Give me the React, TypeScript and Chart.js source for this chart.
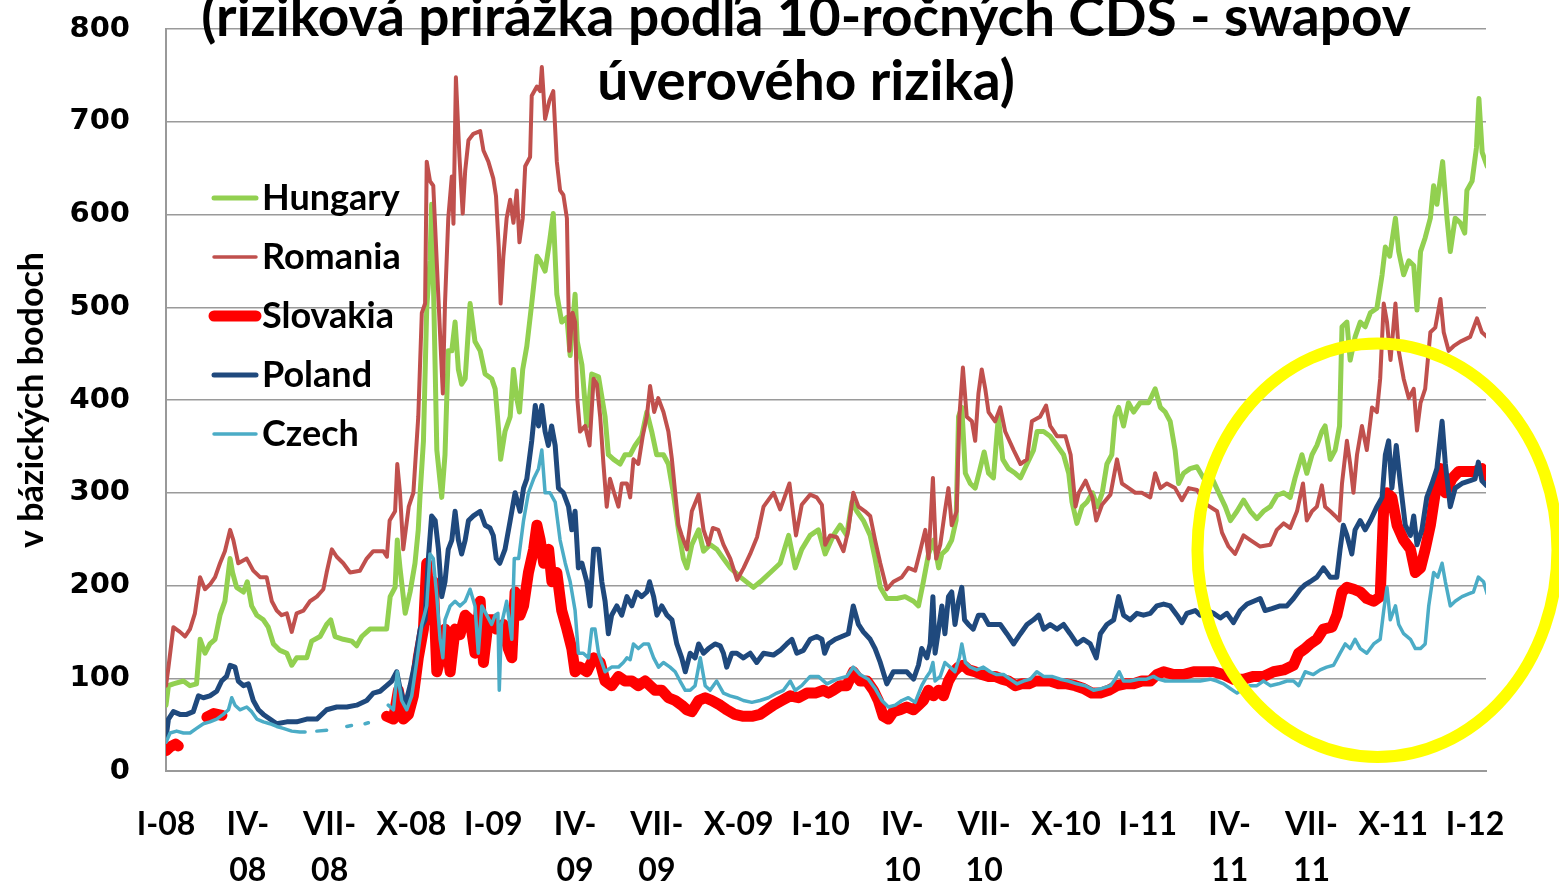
import React, { useEffect, useRef } from 'react';
import { Chart, registerables } from 'chart.js';

Chart.register(...registerables);

// ---------- text ----------
const TITLE_LINES = ['(riziková prirážka podľa 10-ročných CDS - swapov', 'úverového rizika)'];
const Y_TITLE = 'v bázických bodoch';
const TICK_LABELS: (string | string[])[] = [
  'I-08', ['IV-', '08'], ['VII-', '08'], 'X-08',
  'I-09', ['IV-', '09'], ['VII-', '09'], 'X-09',
  'I-10', ['IV-', '10'], ['VII-', '10'], 'X-10',
  'I-11', ['IV-', '11'], ['VII-', '11'], 'X-11',
  'I-12',
];
const TICK_STEP = 3; // months between labels
const X_MAX = 48.4; // months since I-08
const Y_MAX = 800;
const Y_STEP = 100;

// ---------- series: [months since Jan 2008, basis points] ----------
type P = [number, number | null];

const hungary: P[] = [[0,71],[0.09,92],[0.27,94],[0.64,97],[0.88,92],[1.12,94],[1.25,142],[1.43,127],[1.61,137],[1.8,142],[1.98,168],[2.16,183],[2.35,229],[2.44,214],[2.59,198],[2.84,193],[2.98,204],[3.14,178],[3.33,168],[3.57,163],[3.75,155],[3.94,137],[4.18,130],[4.43,127],[4.61,114],[4.79,122],[5.16,122],[5.34,140],[5.65,145],[5.89,158],[6.04,163],[6.2,145],[6.5,142],[6.81,140],[6.99,135],[7.18,145],[7.48,153],[7.85,153],[8.09,153],[8.22,188],[8.4,198],[8.48,249],[8.58,219],[8.77,170],[8.95,193],[9.13,224],[9.25,260],[9.32,300],[9.44,356],[9.56,499],[9.68,550],[9.74,611],[9.8,534],[9.93,346],[10.11,295],[10.23,341],[10.35,453],[10.48,453],[10.6,484],[10.72,433],[10.84,417],[10.97,423],[11.15,504],[11.33,463],[11.52,453],[11.7,428],[11.94,423],[12.07,412],[12.2,366],[12.27,336],[12.43,366],[12.62,382],[12.74,433],[12.86,402],[12.96,387],[13.08,433],[13.23,458],[13.41,504],[13.6,555],[13.72,550],[13.9,539],[14.06,570],[14.2,601],[14.33,514],[14.51,484],[14.7,489],[14.82,448],[15.0,514],[15.08,463],[15.25,438],[15.43,372],[15.61,428],[15.86,425],[16.1,382],[16.22,341],[16.41,336],[16.65,331],[16.83,341],[17.02,341],[17.2,351],[17.44,361],[17.63,387],[17.81,366],[17.99,341],[18.24,341],[18.42,331],[18.6,300],[18.79,260],[18.97,229],[19.1,219],[19.28,244],[19.53,260],[19.71,237],[19.95,244],[20.2,239],[20.44,229],[20.69,219],[21.06,209],[21.54,198],[21.79,204],[22.16,214],[22.52,224],[22.83,254],[23.07,219],[23.31,239],[23.62,254],[23.92,260],[24.17,234],[24.47,254],[24.72,265],[24.96,254],[25.15,290],[25.33,280],[25.57,270],[25.82,254],[26.0,229],[26.19,198],[26.43,186],[26.8,186],[27.1,188],[27.41,183],[27.59,178],[27.77,204],[27.96,234],[28.15,249],[28.33,219],[28.45,234],[28.63,239],[28.81,249],[28.97,270],[29.06,382],[29.18,392],[29.31,321],[29.49,310],[29.67,305],[29.85,326],[30.0,344],[30.16,321],[30.34,316],[30.52,382],[30.68,336],[30.89,326],[31.14,321],[31.33,316],[31.57,331],[31.81,346],[31.94,366],[32.18,366],[32.42,361],[32.67,351],[32.91,341],[33.1,321],[33.22,290],[33.4,267],[33.59,285],[33.77,290],[33.97,300],[34.15,285],[34.33,300],[34.5,331],[34.68,341],[34.8,382],[34.93,392],[35.11,372],[35.29,397],[35.48,387],[35.72,397],[36.03,397],[36.27,412],[36.46,392],[36.64,387],[36.82,377],[37.0,346],[37.13,310],[37.31,321],[37.55,326],[37.8,328],[38.04,316],[38.35,316],[38.6,300],[38.84,285],[39.03,270],[39.27,280],[39.51,292],[39.76,280],[40.0,272],[40.24,280],[40.49,285],[40.73,297],[40.98,300],[41.22,295],[41.4,316],[41.65,341],[41.83,321],[42.02,341],[42.2,351],[42.38,366],[42.5,372],[42.69,336],[42.87,346],[43.03,372],[43.12,479],[43.3,484],[43.42,443],[43.6,468],[43.79,484],[43.97,479],[44.16,494],[44.4,499],[44.59,535],[44.71,565],[44.87,555],[45.08,596],[45.2,560],[45.38,535],[45.57,550],[45.75,545],[45.87,497],[46.0,560],[46.17,575],[46.36,596],[46.48,631],[46.6,611],[46.81,657],[46.97,596],[47.09,560],[47.27,596],[47.46,591],[47.62,580],[47.7,626],[47.89,636],[48.05,672],[48.14,725],[48.26,667],[48.44,652]];

const romania: P[] = [[0,92],[0.09,112],[0.27,155],[0.51,150],[0.7,145],[0.88,153],[1.06,170],[1.25,209],[1.43,196],[1.61,201],[1.8,209],[1.98,224],[2.16,237],[2.35,260],[2.47,249],[2.65,224],[2.96,229],[3.2,216],[3.45,209],[3.69,209],[3.88,183],[4.06,173],[4.24,168],[4.43,170],[4.61,150],[4.79,170],[5.04,173],[5.28,183],[5.53,188],[5.77,196],[5.89,214],[6.08,239],[6.26,231],[6.5,224],[6.75,214],[7.11,216],[7.36,229],[7.6,237],[7.97,237],[8.1,231],[8.2,270],[8.4,280],[8.48,331],[8.58,300],[8.7,239],[8.9,285],[9.07,300],[9.25,382],[9.38,494],[9.5,504],[9.56,657],[9.68,636],[9.8,631],[9.99,509],[10.15,407],[10.23,504],[10.35,596],[10.48,641],[10.54,590],[10.63,748],[10.76,662],[10.88,601],[10.97,647],[11.09,680],[11.27,687],[11.52,690],[11.64,669],[11.82,657],[12.0,639],[12.1,620],[12.2,565],[12.27,504],[12.37,555],[12.49,596],[12.62,616],[12.74,591],[12.86,626],[12.96,570],[13.08,596],[13.17,652],[13.35,662],[13.41,728],[13.6,738],[13.72,733],[13.78,759],[13.9,703],[14.06,723],[14.2,733],[14.33,657],[14.45,626],[14.57,621],[14.7,596],[14.79,453],[14.91,494],[15.0,484],[15.08,402],[15.18,366],[15.37,372],[15.53,351],[15.68,423],[15.8,417],[15.92,382],[16.04,331],[16.16,285],[16.28,315],[16.43,300],[16.59,285],[16.71,310],[16.9,310],[17.02,295],[17.14,336],[17.32,331],[17.48,361],[17.63,382],[17.75,415],[17.9,387],[18.05,402],[18.24,387],[18.42,366],[18.55,336],[18.67,300],[18.79,265],[18.91,254],[19.1,239],[19.28,280],[19.53,298],[19.71,260],[19.89,244],[20.05,262],[20.25,260],[20.44,244],[20.69,229],[20.94,206],[21.18,219],[21.42,234],[21.67,252],[21.91,285],[22.28,300],[22.52,282],[22.86,310],[23.1,254],[23.31,287],[23.62,298],[23.86,295],[24.05,287],[24.17,244],[24.35,254],[24.6,252],[24.84,237],[25.02,260],[25.2,300],[25.39,285],[25.63,280],[25.82,275],[26.0,249],[26.19,224],[26.43,196],[26.67,204],[26.98,209],[27.22,219],[27.47,216],[27.65,237],[27.84,260],[27.96,229],[28.12,316],[28.24,229],[28.39,244],[28.56,280],[28.69,305],[28.81,265],[28.99,280],[29.09,382],[29.22,435],[29.36,382],[29.55,377],[29.67,356],[29.79,407],[29.91,433],[30.04,412],[30.16,387],[30.4,377],[30.59,392],[30.77,366],[31.08,346],[31.33,331],[31.57,336],[31.75,377],[32.05,382],[32.27,394],[32.42,372],[32.67,361],[32.98,361],[33.17,341],[33.35,285],[33.47,300],[33.72,313],[33.97,295],[34.11,270],[34.32,287],[34.63,298],[34.87,336],[35.05,310],[35.3,305],[35.54,300],[35.78,300],[36.09,295],[36.27,321],[36.46,305],[36.7,310],[37.0,305],[37.25,292],[37.5,305],[37.8,303],[38.17,287],[38.54,280],[38.72,257],[38.96,242],[39.2,234],[39.51,254],[39.76,249],[40.12,242],[40.49,244],[40.73,260],[40.98,267],[41.22,262],[41.47,280],[41.69,310],[41.83,270],[42.02,280],[42.2,285],[42.38,308],[42.5,285],[42.69,280],[42.87,275],[43.03,270],[43.12,310],[43.3,356],[43.42,331],[43.54,300],[43.67,341],[43.85,372],[44.03,346],[44.22,392],[44.4,387],[44.52,423],[44.65,504],[44.77,484],[44.9,443],[45.08,504],[45.2,453],[45.38,423],[45.57,402],[45.75,412],[45.87,367],[46.0,397],[46.17,412],[46.36,473],[46.54,478],[46.73,509],[46.85,473],[47.03,453],[47.21,458],[47.46,463],[47.82,468],[48.07,488],[48.25,473],[48.44,468]];

const slovakia: P[] = [[0,22],[0.15,26],[0.35,29],[0.45,27],[0.9,null],[1.5,58],[1.75,62],[2.05,60],[5,null],[8.09,59],[8.34,56],[8.52,87],[8.7,56],[8.89,61],[9.07,81],[9.25,122],[9.44,153],[9.56,224],[9.68,163],[9.8,204],[9.93,107],[10.11,127],[10.23,153],[10.42,107],[10.6,153],[10.78,147],[10.97,168],[11.15,163],[11.33,127],[11.52,183],[11.64,117],[11.82,163],[12.0,163],[12.11,153],[12.37,158],[12.55,132],[12.68,122],[12.8,193],[12.98,168],[13.11,178],[13.29,214],[13.48,239],[13.6,265],[13.72,249],[13.85,224],[14.03,239],[14.15,204],[14.33,214],[14.51,173],[14.7,153],[14.88,132],[15.0,107],[15.18,112],[15.43,107],[15.68,122],[15.92,117],[16.1,97],[16.34,92],[16.59,102],[16.83,97],[17.08,97],[17.32,92],[17.57,97],[17.75,92],[17.93,87],[18.18,87],[18.42,79],[18.67,76],[18.91,71],[19.1,66],[19.28,64],[19.53,76],[19.77,79],[20.01,76],[20.32,71],[20.56,66],[20.86,61],[21.17,59],[21.48,59],[21.78,61],[22.03,66],[22.27,71],[22.58,76],[22.89,81],[23.19,79],[23.5,84],[23.81,84],[24.11,87],[24.29,84],[24.47,87],[24.72,92],[24.96,92],[25.2,107],[25.45,97],[25.7,97],[25.94,87],[26.12,76],[26.3,59],[26.49,56],[26.67,64],[26.92,66],[27.16,69],[27.41,66],[27.59,71],[27.77,76],[27.96,87],[28.14,81],[28.33,87],[28.51,81],[28.69,97],[28.88,107],[29.06,112],[29.24,114],[29.43,109],[29.67,107],[29.91,104],[30.16,102],[30.4,102],[30.65,99],[30.89,97],[31.14,92],[31.38,94],[31.63,94],[31.87,97],[32.12,97],[32.42,97],[32.73,94],[33.03,94],[33.34,92],[33.64,89],[33.95,84],[34.26,84],[34.56,87],[34.87,92],[35.17,94],[35.48,94],[35.78,97],[36.09,97],[36.33,104],[36.58,107],[36.94,104],[37.31,104],[37.68,107],[38.04,107],[38.41,107],[38.78,104],[39.14,99],[39.51,99],[39.88,102],[40.24,102],[40.61,107],[40.98,109],[41.34,114],[41.53,127],[41.77,132],[41.95,137],[42.2,142],[42.44,153],[42.75,155],[42.93,168],[43.12,193],[43.3,198],[43.55,196],[43.79,193],[44.03,186],[44.28,183],[44.52,188],[44.65,285],[44.77,300],[44.95,295],[45.14,265],[45.38,249],[45.63,239],[45.81,214],[46.0,219],[46.17,239],[46.36,265],[46.54,300],[46.73,326],[46.91,300],[47.15,315],[47.4,323],[47.7,323],[48.0,323],[48.25,326],[48.44,318]];

const poland: P[] = [[0,36],[0.09,56],[0.27,64],[0.51,61],[0.76,61],[1.0,64],[1.19,81],[1.37,79],[1.61,81],[1.86,86],[2.04,97],[2.22,102],[2.35,114],[2.53,112],[2.65,97],[2.84,92],[3.02,94],[3.2,76],[3.39,66],[3.57,61],[3.81,56],[4.06,51],[4.43,53],[4.79,53],[5.16,56],[5.53,56],[5.89,66],[6.26,69],[6.63,69],[6.99,71],[7.36,76],[7.6,84],[7.85,86],[8.09,92],[8.28,97],[8.46,107],[8.58,89],[8.77,71],[8.95,92],[9.13,117],[9.32,153],[9.5,163],[9.62,229],[9.74,275],[9.87,270],[9.99,239],[10.11,188],[10.23,204],[10.35,239],[10.48,249],[10.6,280],[10.72,249],[10.84,234],[10.97,249],[11.09,270],[11.27,275],[11.52,280],[11.7,265],[11.88,262],[12.0,254],[12.11,229],[12.24,224],[12.43,239],[12.62,270],[12.8,300],[12.98,280],[13.11,305],[13.23,315],[13.41,356],[13.54,394],[13.66,372],[13.78,394],[13.9,366],[14.02,351],[14.14,372],[14.27,351],[14.39,305],[14.57,300],[14.76,285],[14.88,260],[15.0,280],[15.12,219],[15.25,224],[15.43,204],[15.55,178],[15.68,239],[15.86,239],[15.98,204],[16.1,183],[16.22,148],[16.34,168],[16.53,178],[16.71,168],[16.9,188],[17.08,178],[17.26,193],[17.44,188],[17.63,193],[17.73,204],[17.88,188],[18.0,168],[18.18,178],[18.37,168],[18.55,163],[18.73,137],[18.91,122],[19.04,107],[19.22,127],[19.4,122],[19.53,137],[19.71,127],[19.89,132],[20.13,137],[20.32,135],[20.44,127],[20.56,112],[20.75,127],[20.93,127],[21.17,122],[21.42,127],[21.66,117],[21.91,127],[22.27,125],[22.52,130],[22.76,137],[22.95,142],[23.13,127],[23.37,130],[23.62,142],[23.86,145],[24.05,142],[24.15,127],[24.29,137],[24.54,142],[24.78,145],[25.02,148],[25.2,178],[25.39,158],[25.57,150],[25.82,142],[26.0,132],[26.19,117],[26.43,94],[26.67,107],[26.92,107],[27.16,107],[27.41,99],[27.59,114],[27.71,132],[27.9,122],[28.02,137],[28.12,188],[28.2,127],[28.33,153],[28.45,178],[28.56,148],[28.69,188],[28.81,193],[28.93,158],[29.06,183],[29.18,198],[29.28,163],[29.42,158],[29.6,153],[29.79,168],[29.97,168],[30.16,158],[30.34,158],[30.59,158],[30.83,148],[31.08,137],[31.33,148],[31.57,158],[31.81,163],[32.0,168],[32.18,153],[32.42,158],[32.67,153],[32.91,158],[33.15,148],[33.4,137],[33.64,142],[33.89,137],[34.11,122],[34.26,148],[34.5,158],[34.75,163],[34.93,188],[35.11,168],[35.35,163],[35.6,170],[35.84,168],[36.09,170],[36.33,178],[36.58,180],[36.82,178],[37.07,168],[37.25,160],[37.43,170],[37.74,173],[37.92,168],[38.17,173],[38.41,170],[38.66,165],[38.9,170],[39.14,160],[39.39,173],[39.64,180],[39.88,183],[40.12,186],[40.3,173],[40.55,175],[40.85,178],[41.1,178],[41.34,186],[41.59,196],[41.77,201],[41.95,204],[42.2,209],[42.44,219],[42.69,209],[42.93,209],[43.05,239],[43.17,265],[43.3,254],[43.48,234],[43.6,260],[43.79,270],[43.97,260],[44.16,270],[44.4,285],[44.59,295],[44.71,341],[44.83,356],[44.95,305],[45.11,351],[45.26,310],[45.44,265],[45.63,254],[45.75,275],[45.87,244],[46.05,260],[46.23,295],[46.42,310],[46.6,326],[46.79,377],[46.91,331],[47.09,285],[47.27,305],[47.52,310],[47.82,313],[48.0,315],[48.12,333],[48.25,313],[48.41,308]];

const czech: P[] = [[0,31],[0.15,41],[0.39,43],[0.64,41],[0.88,41],[1.12,46],[1.37,51],[1.61,53],[1.86,56],[2.1,61],[2.29,66],[2.41,79],[2.53,71],[2.71,66],[2.96,69],[3.14,64],[3.33,56],[3.57,53],[3.81,51],[4.06,48],[4.3,46],[4.61,43],[4.91,42],[5.1,42],[5.3,null],[5.53,43],[5.89,44],[6.2,null],[6.63,48],[6.8,49],[7.0,null],[7.3,51],[7.42,52],[7.8,null],[8.15,71],[8.34,66],[8.48,107],[8.64,76],[8.83,66],[9.01,81],[9.19,117],[9.38,158],[9.56,178],[9.68,234],[9.8,229],[9.93,188],[10.05,142],[10.15,122],[10.23,163],[10.42,178],[10.6,183],[10.78,178],[10.97,183],[11.15,196],[11.33,178],[11.45,127],[11.58,178],[11.76,168],[11.94,158],[12.07,168],[12.17,170],[12.22,87],[12.3,158],[12.49,183],[12.68,142],[12.77,229],[12.93,229],[13.11,270],[13.29,300],[13.48,315],[13.66,326],[13.78,346],[13.9,300],[14.08,300],[14.27,290],[14.45,249],[14.64,224],[14.82,204],[15.0,173],[15.12,127],[15.3,127],[15.49,122],[15.61,153],[15.73,153],[15.86,127],[16.1,107],[16.34,112],[16.59,112],[16.77,117],[16.9,122],[17.02,120],[17.14,137],[17.32,132],[17.51,137],[17.69,137],[17.88,122],[18.06,112],[18.24,117],[18.48,112],[18.67,107],[18.85,97],[19.04,87],[19.22,87],[19.4,92],[19.59,122],[19.77,92],[19.95,87],[20.19,97],[20.44,84],[20.68,81],[20.93,79],[21.17,76],[21.48,74],[21.78,76],[22.09,79],[22.4,84],[22.64,87],[22.89,97],[23.07,87],[23.31,92],[23.62,102],[23.92,102],[24.23,94],[24.6,99],[24.96,102],[25.2,112],[25.45,104],[25.75,99],[26.0,89],[26.25,76],[26.49,69],[26.74,71],[26.98,76],[27.22,79],[27.47,74],[27.71,92],[27.9,102],[28.02,107],[28.12,117],[28.2,97],[28.39,102],[28.56,117],[28.75,112],[28.93,107],[29.09,122],[29.18,137],[29.31,117],[29.49,112],[29.73,109],[29.97,112],[30.22,107],[30.46,104],[30.71,104],[30.95,99],[31.2,94],[31.44,97],[31.69,99],[31.93,107],[32.18,102],[32.48,102],[32.79,99],[33.09,97],[33.4,94],[33.71,92],[34.01,87],[34.32,89],[34.63,92],[34.8,99],[34.95,107],[35.11,97],[35.35,97],[35.66,99],[35.96,99],[36.21,102],[36.39,99],[36.64,97],[36.94,97],[37.25,97],[37.55,97],[37.92,97],[38.29,99],[38.53,97],[38.78,94],[39.02,89],[39.27,84],[39.51,89],[39.76,92],[40.0,92],[40.24,97],[40.49,92],[40.79,94],[41.1,97],[41.34,97],[41.53,92],[41.77,107],[42.07,104],[42.32,109],[42.56,112],[42.81,114],[43.05,127],[43.24,137],[43.42,132],[43.6,142],[43.79,132],[44.03,127],[44.28,137],[44.52,142],[44.65,173],[44.77,198],[44.89,163],[45.08,178],[45.2,158],[45.38,148],[45.63,142],[45.81,132],[46.0,132],[46.17,137],[46.3,178],[46.48,214],[46.63,209],[46.79,224],[46.91,204],[47.09,178],[47.27,183],[47.52,188],[47.76,191],[47.94,193],[48.12,209],[48.31,204],[48.44,191]];

// highlighted region (months, basis points)
const HIGHLIGHT = { cx: 44.42, cy: 238, rx: 6.6, ry: 223 };

const SERIES = [
  { label: 'Hungary', data: hungary, color: '#92D050', width: 5, legendWidth: 5 },
  { label: 'Romania', data: romania, color: '#C0504D', width: 4, legendWidth: 3.5 },
  { label: 'Slovakia', data: slovakia, color: '#FF0000', width: 11, legendWidth: 11 },
  { label: 'Poland', data: poland, color: '#1F497D', width: 5, legendWidth: 5 },
  { label: 'Czech', data: czech, color: '#4BACC6', width: 3.5, legendWidth: 3.5 },
];

const W = 1559;
const H = 885;
const TEXT_FONT = 'Lato';

const decorPlugin = {
  id: 'decor',
  afterDraw(chart: any) {
    const { ctx, scales } = chart;
    const x = scales.x;
    const y = scales.y;
    ctx.save();

    // yellow ellipse
    const cx = x.getPixelForValue(HIGHLIGHT.cx);
    const cy = y.getPixelForValue(HIGHLIGHT.cy);
    const rx = Math.abs(x.getPixelForValue(HIGHLIGHT.cx + HIGHLIGHT.rx) - cx);
    const ry = Math.abs(y.getPixelForValue(HIGHLIGHT.cy + HIGHLIGHT.ry) - cy);
    ctx.beginPath();
    ctx.ellipse(cx, cy, rx, ry, 0, 0, Math.PI * 2);
    ctx.strokeStyle = '#FFFF00';
    ctx.lineWidth = 12;
    ctx.stroke();

    // legend
    ctx.lineCap = 'round';
    ctx.font = `bold 36px ${TEXT_FONT}`;
    ctx.fillStyle = '#000';
    ctx.textAlign = 'left';
    ctx.textBaseline = 'alphabetic';
    SERIES.forEach((s, i) => {
      const base = 210 + i * 59;
      const ly = base - 12;
      ctx.beginPath();
      ctx.moveTo(214, ly);
      ctx.lineTo(256, ly);
      ctx.strokeStyle = s.color;
      ctx.lineWidth = s.legendWidth;
      ctx.stroke();
      ctx.fillText(s.label, 262, base);
    });

    // title (first line partly above the canvas)
    ctx.font = `bold 55px ${TEXT_FONT}`;
    ctx.textAlign = 'center';
    TITLE_LINES.forEach((t, i) => ctx.fillText(t, 806, 36 + i * 64));
    ctx.restore();
  },
};

export default function App() {
  const ref = useRef<HTMLCanvasElement>(null);

  useEffect(() => {
    document.body.style.margin = '0';
    const canvas = ref.current;
    if (!canvas) return;
    Chart.defaults.color = '#000';

    const datasets = SERIES.map((s, i) => ({
      label: s.label,
      data: s.data.map(([m, v]) => ({ x: m, y: v })),
      borderColor: s.color,
      backgroundColor: s.color,
      borderWidth: s.width,
      pointRadius: 0,
      pointHoverRadius: 0,
      tension: 0,
      spanGaps: false,
      borderJoinStyle: 'round' as const,
      borderCapStyle: 'round' as const,
      order: SERIES.length - i,
    }));

    const chart = new Chart(canvas, {
      type: 'line',
      data: { datasets },
      options: {
        animation: false,
        responsive: false,
        devicePixelRatio: 1,
        events: [],
        layout: { autoPadding: false, padding: { left: 0, top: 29, right: W - 1486, bottom: 0 } },
        plugins: { legend: { display: false }, title: { display: false }, tooltip: { enabled: false } },
        scales: {
          x: {
            type: 'linear',
            min: 0,
            max: X_MAX,
            afterFit: (s: any) => { s.height = H - 771; },
            afterBuildTicks: (s: any) => {
              s.ticks = TICK_LABELS.map((_, i) => ({ value: i * TICK_STEP }));
            },
            grid: { display: false },
            border: { display: true, color: '#999999', width: 2 },
            ticks: {
              autoSkip: false,
              maxRotation: 0,
              minRotation: 0,
              padding: 23,
              color: '#000',
              font: { family: TEXT_FONT, weight: 'bold', size: 32, lineHeight: '46px' },
              callback: (v: any) => TICK_LABELS[Math.round(Number(v) / TICK_STEP)] as any,
            },
          },
          y: {
            min: 0,
            max: Y_MAX,
            afterFit: (s: any) => { s.width = 166; },
            grid: { color: '#9a9a9a', lineWidth: 1.5, drawTicks: true, tickLength: 33, tickColor: 'rgba(0,0,0,0)' },
            border: { display: true, color: '#999999', width: 2 },
            ticks: {
              stepSize: Y_STEP,
              padding: 3,
              color: '#000',
              font: { family: 'DejaVu Sans', weight: 'bold', size: 29 },
            },
            title: {
              display: true,
              text: Y_TITLE,
              color: '#000',
              font: { family: TEXT_FONT, weight: 'bold', size: 34 },
              padding: { top: 12, bottom: 0 },
            },
          },
        },
      },
      plugins: [decorPlugin],
    } as any);

    return () => chart.destroy();
  }, []);

  return (
    <div style={{ width: W, height: H, position: 'relative' }}>
      <canvas ref={ref} width={W} height={H} style={{ display: 'block' }} />
    </div>
  );
}
